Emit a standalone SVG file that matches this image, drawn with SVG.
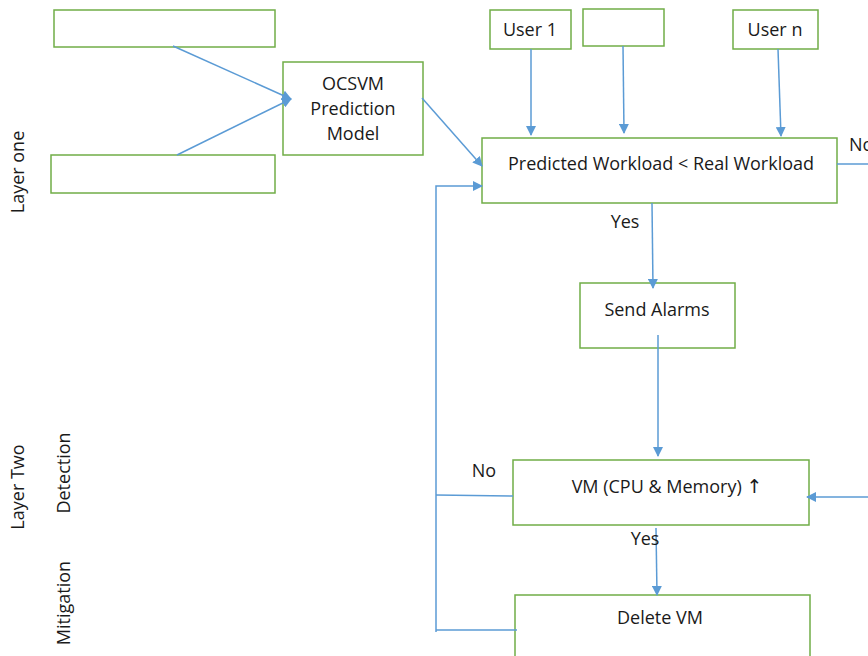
<svg xmlns="http://www.w3.org/2000/svg" width="868" height="656" viewBox="0 0 868 656">
<style>
.box{fill:#fff;stroke:#70AD47;stroke-width:1.5}
.ln{fill:none;stroke:#5B9BD5;stroke-width:1.5}
.t{font-family:"Open Sans","Liberation Sans",sans-serif;font-size:18px;fill:#1a1a1a;text-anchor:middle}
</style>
<defs>
<marker id="ah" viewBox="0 0 10 10" refX="9" refY="5" markerWidth="10" markerHeight="10" markerUnits="userSpaceOnUse" orient="auto">
<path d="M0,0 L10,5 L0,10 z" fill="#5B9BD5"/>
</marker>
</defs>
<rect width="868" height="656" fill="#fff"/>
<g id="input1"><rect class="box" x="54" y="10" width="221" height="37"/></g>
<g id="input2"><rect class="box" x="51" y="155" width="224" height="38"/></g>
<g id="ocsvm"><rect class="box" x="283" y="62" width="140" height="93"/>
<text class="t" x="353" y="90">OCSVM</text>
<text class="t" x="353" y="115">Prediction</text>
<text class="t" x="353" y="140">Model</text></g>
<g id="user1"><rect class="box" x="490" y="10" width="81" height="39"/><text class="t" x="530" y="36">User 1</text></g>
<g id="user2"><rect class="box" x="583" y="9" width="81" height="37"/></g>
<g id="usern"><rect class="box" x="733" y="10" width="85" height="39"/><text class="t" x="775" y="36">User n</text></g>
<g id="compare"><rect class="box" x="482" y="138" width="355" height="65"/>
<text class="t" x="661" y="170">Predicted Workload &lt; Real Workload</text></g>
<g id="alarms"><rect class="box" x="580" y="283" width="155" height="65"/><text class="t" x="657" y="316">Send Alarms</text></g>
<g id="vm"><rect class="box" x="513" y="460" width="296" height="65"/><text class="t" x="667" y="493">VM (CPU &amp; Memory) <tspan font-family="DejaVu Sans" font-size="19">↑</tspan></text></g>
<g id="delete"><rect class="box" x="515" y="595" width="295" height="70"/><text class="t" x="660" y="624">Delete VM</text></g>
<g id="connectors">
<line class="ln" x1="173" y1="46" x2="291" y2="99" marker-end="url(#ah)"/>
<line class="ln" x1="177" y1="155" x2="291" y2="99" marker-end="url(#ah)"/>
<line class="ln" x1="422" y1="98" x2="482" y2="166" marker-end="url(#ah)"/>
<line class="ln" x1="531" y1="49" x2="531" y2="135" marker-end="url(#ah)"/>
<line class="ln" x1="623" y1="46" x2="624" y2="133" marker-end="url(#ah)"/>
<line class="ln" x1="778" y1="49" x2="781" y2="136" marker-end="url(#ah)"/>
<line class="ln" x1="837" y1="164" x2="868" y2="164"/>
<line class="ln" x1="652" y1="203" x2="653" y2="288" marker-end="url(#ah)"/>
<line class="ln" x1="658" y1="335" x2="658" y2="456" marker-end="url(#ah)"/>
<line class="ln" x1="868" y1="497" x2="807" y2="497" marker-end="url(#ah)"/>
<polyline class="ln" points="513,496 436,495"/>
<polyline class="ln" points="436,632 436,186 482,186" marker-end="url(#ah)"/>
<line class="ln" x1="656" y1="528" x2="657" y2="595" marker-end="url(#ah)"/>
<line class="ln" x1="517" y1="630" x2="436" y2="630"/>
</g>
<g id="labels">
<text class="t" x="849" y="151" style="text-anchor:start">No</text>
<text class="t" x="625" y="228">Yes</text>
<text class="t" x="484" y="477">No</text>
<text class="t" x="645" y="545">Yes</text>
<text class="t" transform="translate(24,172) rotate(-90)">Layer one</text>
<text class="t" transform="translate(24,487) rotate(-90)">Layer Two</text>
<text class="t" transform="translate(70,473) rotate(-90)">Detection</text>
<text class="t" transform="translate(70,603) rotate(-90)">Mitigation</text>
</g>
</svg>
